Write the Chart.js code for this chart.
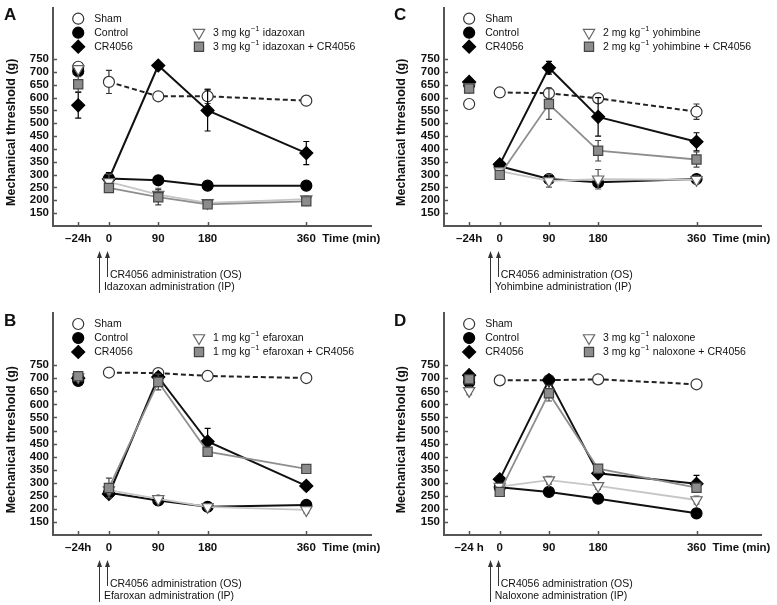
<!DOCTYPE html>
<html>
<head>
<meta charset="utf-8">
<script src="https://cdn.jsdelivr.net/npm/chart.js@4.4.0/dist/chart.umd.min.js"></script>
<style>
  body { margin: 0; background: #fff; width: 777px; height: 605px; position: relative; overflow: hidden; }
  .panel { position: absolute; }
</style>
</head>
<body>
<div class="panel" style="left:0;top:0;width:390px;height:300px"><canvas id="chartA"></canvas></div>
<div class="panel" style="left:390px;top:0;width:387px;height:300px"><canvas id="chartC"></canvas></div>
<div class="panel" style="left:0;top:300px;width:390px;height:305px"><canvas id="chartB"></canvas></div>
<div class="panel" style="left:390px;top:300px;width:387px;height:305px"><canvas id="chartD"></canvas></div>
<script>
// time points (-24h is placed left of 0 on the time axis)
const timeTicks = [-56, 0, 90, 180, 360];
const timeLabels = ['\u201324h', '0', '90', '180', '360'];
const timeLabelsD = ['\u201324 h', '0', '90', '180', '360'];
const yTicks = [150, 200, 250, 300, 350, 400, 450, 500, 550, 600, 650, 700, 750];

// Panel A - idazoxan
const shamA = [720, 661, 605, 605, 588];
const shamErrA = [6, 45, 10, 28, 8];
const controlA = [703, 285, 278, 257, 257];
const controlErrA = [8, 22, 12, 8, 8];
const crA = [570, 283, 725, 550, 384];
const crErrA = [50, 25, 10, 80, 45];
const idazoxanA = [712, 272, 222, 190, 205];
const idazoxanErrA = [10, 30, 25, 10, 12];
const idazoxanCrA = [652, 248, 212, 184, 196];
const idazoxanCrErrA = [30, 15, 30, 8, 10];

// Panel B - efaroxan
const shamB = [705, 722, 720, 709, 701];
const shamErrB = [5, 6, 10, 5, 5];
const controlB = [690, 262, 232, 208, 215];
const controlErrB = [5, 8, 8, 6, 8];
const crB = [700, 257, 705, 458, 288];
const crErrB = [8, 10, 15, 50, 15];
const efaroxanB = [705, 272, 238, 208, 196];
const efaroxanErrB = [8, 8, 8, 8, 12];
const efaroxanCrB = [708, 280, 686, 419, 353];
const efaroxanCrErrB = [8, 38, 30, 12, 10];

// Panel C - yohimbine
const shamC = [575, 620, 617, 597, 545];
const shamErrC = [12, 6, 20, 10, 30];
const controlC = [650, 333, 283, 270, 283];
const controlErrC = [8, 10, 10, 10, 10];
const crC = [661, 340, 716, 525, 428];
const crErrC = [8, 10, 25, 75, 35];
const yohimbineC = [642, 314, 276, 282, 280];
const yohimbineErrC = [10, 10, 25, 38, 15];
const yohimbineCrC = [635, 299, 575, 393, 359];
const yohimbineCrErrC = [15, 10, 60, 40, 30];

// Panel D - naloxone
const shamD = [700, 692, 693, 696, 677];
const shamErrD = [5, 15, 10, 8, 15];
const controlD = [685, 283, 265, 239, 183];
const controlErrD = [8, 8, 10, 8, 8];
const crD = [712, 313, 693, 336, 296];
const crErrD = [8, 10, 12, 10, 32];
const naloxoneD = [652, 285, 310, 288, 234];
const naloxoneErrD = [15, 10, 15, 12, 15];
const naloxoneCrD = [696, 265, 643, 354, 281];
const naloxoneCrErrD = [10, 10, 30, 12, 12];

const FONT = '"Liberation Sans", Arial, sans-serif';
const TXT = '#111';
const AXIS = '#555';

const styles = {
    sham:    { shape: 'circle',   r: 5.5, fill: '#fff',    edge: '#333', line: '#222',    lw: 2,   dash: [5, 3] },
    control: { shape: 'circle',   r: 5.5, fill: '#000',    edge: '#000', line: '#111',    lw: 2 },
    cr:      { shape: 'rectRot',  r: 6.5, fill: '#000',    edge: '#000', line: '#111',    lw: 2 },
    drug:    { shape: 'triangle', r: 6.5, fill: '#fff',    edge: '#666', line: '#c6c6c6', lw: 1.8, rot: 180 },
    drugCr:  { shape: 'rect',     r: 6.5, fill: '#8c8c8c', edge: '#444', line: '#8e8e8e', lw: 1.8 }
};

function makeSet(label, values, errs, st) {
    return {
        label: label,
        errs: errs,
        errColor: st.edge === '#666' ? '#555' : st.edge,
        data: values.map((v, i) => ({ x: timeTicks[i], y: v })),
        borderColor: st.line,
        borderWidth: st.lw,
        borderDash: st.dash || [],
        pointStyle: st.shape,
        pointRadius: st.r,
        pointRotation: st.rot || 0,
        pointBackgroundColor: st.fill,
        pointBorderColor: st.edge,
        pointBorderWidth: 1.2,
        tension: 0,
        fill: false,
        // the -24h baseline is not joined to the time course
        segment: { borderColor: c => c.p0DataIndex === 0 ? 'rgba(0,0,0,0)' : undefined }
    };
}

// marker for the legend, same look as the data points
function marker(ctx, st, x, y) {
    const r = st.r;
    ctx.save();
    ctx.fillStyle = st.fill;
    ctx.strokeStyle = st.edge;
    ctx.lineWidth = 1.2;
    ctx.beginPath();
    if (st.shape === 'circle') {
        ctx.arc(x, y, r, 0, Math.PI * 2);
    } else if (st.shape === 'rectRot') {
        ctx.moveTo(x, y - r); ctx.lineTo(x + r, y); ctx.lineTo(x, y + r); ctx.lineTo(x - r, y); ctx.closePath();
    } else if (st.shape === 'rect') {
        const s = r * Math.SQRT1_2;
        ctx.rect(x - s, y - s, 2 * s, 2 * s);
    } else {
        const h = r * Math.sin(Math.PI / 3);
        ctx.moveTo(x, y + r); ctx.lineTo(x - h, y - r / 2); ctx.lineTo(x + h, y - r / 2); ctx.closePath();
    }
    ctx.fill();
    ctx.stroke();
    ctx.restore();
}

// "3 mg kg-1 idazoxan" with a raised -1
function doseText(ctx, x, y, dose, rest) {
    ctx.font = '10.5px ' + FONT;
    const a = dose + ' mg kg';
    ctx.fillText(a, x, y);
    let w = ctx.measureText(a).width;
    ctx.font = '7.5px ' + FONT;
    ctx.fillText('\u22121', x + w + 0.5, y - 4);
    w += ctx.measureText('\u22121').width + 1;
    ctx.font = '10.5px ' + FONT;
    ctx.fillText(' ' + rest, x + w, y);
}

function arrow(ctx, x, y0, y1) {
    ctx.beginPath();
    ctx.moveTo(x, y1);
    ctx.lineTo(x, y0 + 3);
    ctx.stroke();
    ctx.beginPath();
    ctx.moveTo(x, y0);
    ctx.lineTo(x - 2.5, y0 + 7);
    ctx.lineTo(x + 2.5, y0 + 7);
    ctx.closePath();
    ctx.fill();
}

const decor = {
    id: 'decor',
    beforeDatasetDraw(chart, args) {
        const ds = chart.data.datasets[args.index];
        if (!ds.errs) return;
        const { ctx, scales: { x, y } } = chart;
        ctx.save();
        ctx.strokeStyle = ds.errColor;
        ctx.lineWidth = 1.2;
        ds.data.forEach((p, i) => {
            const e = ds.errs[i];
            if (!e) return;
            const px = x.getPixelForValue(p.x);
            const top = y.getPixelForValue(p.y + e);
            const bot = y.getPixelForValue(p.y - e);
            ctx.beginPath();
            ctx.moveTo(px, top); ctx.lineTo(px, bot);
            ctx.moveTo(px - 3, top); ctx.lineTo(px + 3, top);
            ctx.moveTo(px - 3, bot); ctx.lineTo(px + 3, bot);
            ctx.stroke();
        });
        ctx.restore();
    },
    afterDraw(chart, args, o) {
        const { ctx, chartArea: ca, scales: { x, y } } = chart;
        ctx.save();

        // inward tick marks
        ctx.strokeStyle = AXIS;
        ctx.lineWidth = 1.5;
        ctx.beginPath();
        yTicks.forEach(v => {
            const py = Math.round(y.getPixelForValue(v)) + 0.5;
            ctx.moveTo(ca.left, py); ctx.lineTo(ca.left + 4, py);
        });
        timeTicks.forEach(v => {
            const px = Math.round(x.getPixelForValue(v)) + 0.5;
            ctx.moveTo(px, ca.bottom); ctx.lineTo(px, ca.bottom - 4);
        });
        ctx.stroke();

        ctx.fillStyle = TXT;
        ctx.textBaseline = 'middle';

        // panel letter
        ctx.font = 'bold 17px ' + FONT;
        ctx.textAlign = 'left';
        ctx.fillText(o.letter, 4, ca.top + 8);

        // y title
        ctx.save();
        ctx.translate(12, y.getPixelForValue(465));
        ctx.rotate(-Math.PI / 2);
        ctx.textAlign = 'center';
        ctx.font = 'bold 12.5px ' + FONT;
        ctx.fillText('Mechanical threshold (g)', 0, 0);
        ctx.restore();

        // x title
        ctx.font = 'bold 11.5px ' + FONT;
        ctx.textAlign = 'left';
        ctx.fillText('Time (min)', x.getPixelForValue(360) + 16, ca.bottom + 13);

        // legend
        const c1m = x.getPixelForValue(-56), c1t = c1m + 16;
        const c2m = 199, c2t = 213;
        const r1 = ca.top + 11, r2 = ca.top + 25, r3 = ca.top + 39;
        marker(ctx, styles.sham, c1m, r1);
        marker(ctx, styles.control, c1m, r2);
        marker(ctx, styles.cr, c1m, r3);
        marker(ctx, styles.drug, c2m, r2);
        marker(ctx, styles.drugCr, c2m, r3);
        ctx.fillStyle = TXT;
        ctx.font = '10.5px ' + FONT;
        ctx.fillText('Sham', c1t, r1);
        ctx.fillText('Control', c1t, r2);
        ctx.fillText('CR4056', c1t, r3);
        doseText(ctx, c2t, r2, o.dose, o.drug);
        doseText(ctx, c2t, r3, o.dose, o.drug + ' + CR4056');

        // administration arrows
        const p0 = x.getPixelForValue(0);
        ctx.strokeStyle = '#333';
        ctx.fillStyle = '#333';
        ctx.lineWidth = 1;
        arrow(ctx, Math.round(p0 - 10) + 0.5, ca.bottom + 25, ca.bottom + 67);
        arrow(ctx, Math.round(p0 - 2) + 0.5, ca.bottom + 25, ca.bottom + 51);
        ctx.fillStyle = TXT;
        ctx.font = '10.5px ' + FONT;
        ctx.fillText('CR4056 administration (OS)', p0 + 1, ca.bottom + 49);
        ctx.fillText(o.admin, p0 - 5, ca.bottom + 61);

        ctx.restore();
    }
};

function makePanel(id, sets, labels, o) {
    new Chart(document.getElementById(id), {
        type: 'line',
        data: {
            datasets: [
                makeSet(o.drug + ' + CR4056', sets[4], sets[9], styles.drugCr),
                makeSet(o.drug, sets[3], sets[8], styles.drug),
                makeSet('CR4056', sets[2], sets[7], styles.cr),
                makeSet('Control', sets[1], sets[6], styles.control),
                makeSet('Sham', sets[0], sets[5], styles.sham)
            ]
        },
        options: {
            responsive: true,
            maintainAspectRatio: false,
            animation: false,
            events: [],
            layout: { padding: { left: 0, top: o.top, right: o.right, bottom: o.bottom } },
            plugins: { legend: { display: false }, tooltip: { enabled: false }, decor: o },
            scales: {
                x: {
                    type: 'linear',
                    min: -102,
                    max: 478,
                    grid: { display: false, drawTicks: false },
                    border: { color: AXIS, width: 2 },
                    afterBuildTicks: s => { s.ticks = timeTicks.map(v => ({ value: v })); },
                    afterFit: s => { s.height = 20; s.paddingLeft = 0; s.paddingRight = 0; },
                    ticks: {
                        autoSkip: false,
                        maxRotation: 0,
                        padding: 6,
                        color: TXT,
                        font: { family: FONT, size: 11.5, weight: 'bold' },
                        callback: (v, i) => labels[i]
                    }
                },
                y: {
                    min: 100,
                    max: 950,
                    grid: { display: false, drawTicks: false },
                    border: { color: AXIS, width: 2 },
                    afterBuildTicks: s => { s.ticks = yTicks.map(v => ({ value: v })); },
                    afterFit: s => { s.width = o.left; s.paddingTop = 0; s.paddingBottom = 0; },
                    ticks: {
                        autoSkip: false,
                        padding: 4,
                        color: TXT,
                        font: { family: FONT, size: 11.5, weight: 'bold' }
                    }
                }
            }
        },
        plugins: [decor]
    });
}

makePanel('chartA',
    [shamA, controlA, crA, idazoxanA, idazoxanCrA, shamErrA, controlErrA, crErrA, idazoxanErrA, idazoxanCrErrA],
    timeLabels,
    { letter: 'A', dose: '3', drug: 'idazoxan', admin: 'Idazoxan administration (IP)', top: 4, right: 19, bottom: 54, left: 53 });

makePanel('chartC',
    [shamC, controlC, crC, yohimbineC, yohimbineCrC, shamErrC, controlErrC, crErrC, yohimbineErrC, yohimbineCrErrC],
    timeLabels,
    { letter: 'C', dose: '2', drug: 'yohimbine', admin: 'Yohimbine administration (IP)', top: 4, right: 16, bottom: 54, left: 54 });

makePanel('chartB',
    [shamB, controlB, crB, efaroxanB, efaroxanCrB, shamErrB, controlErrB, crErrB, efaroxanErrB, efaroxanCrErrB],
    timeLabels,
    { letter: 'B', dose: '1', drug: 'efaroxan', admin: 'Efaroxan administration (IP)', top: 13, right: 19, bottom: 50, left: 53 });

makePanel('chartD',
    [shamD, controlD, crD, naloxoneD, naloxoneCrD, shamErrD, controlErrD, crErrD, naloxoneErrD, naloxoneCrErrD],
    timeLabelsD,
    { letter: 'D', dose: '3', drug: 'naloxone', admin: 'Naloxone administration (IP)', top: 13, right: 16, bottom: 50, left: 54 });
</script>
</body>
</html>
